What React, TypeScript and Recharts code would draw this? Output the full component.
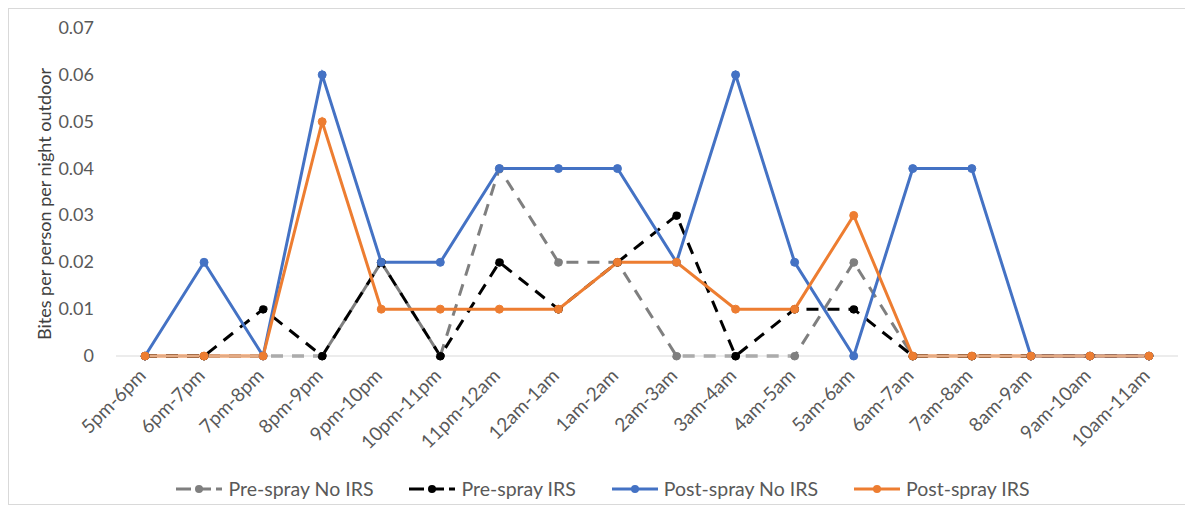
import { LineChart, Line, XAxis, YAxis, Legend } from 'recharts';

const hours = ['5pm-6pm', '6pm-7pm', '7pm-8pm', '8pm-9pm', '9pm-10pm', '10pm-11pm', '11pm-12am', '12am-1am', '1am-2am', '2am-3am', '3am-4am', '4am-5am', '5am-6am', '6am-7am', '7am-8am', '8am-9am', '9am-10am', '10am-11am'];
const preNoIrs = [0, 0, 0, 0, 0.02, 0, 0.04, 0.02, 0.02, 0, 0, 0, 0.02, 0, 0, 0, 0, 0];
const preIrs = [0, 0, 0.01, 0, 0.02, 0, 0.02, 0.01, 0.02, 0.03, 0, 0.01, 0.01, 0, 0, 0, 0, 0];
const postNoIrs = [0, 0.02, 0, 0.06, 0.02, 0.02, 0.04, 0.04, 0.04, 0.02, 0.06, 0.02, 0, 0.04, 0.04, 0, 0, 0];
const postIrs = [0, 0, 0, 0.05, 0.01, 0.01, 0.01, 0.01, 0.02, 0.02, 0.01, 0.01, 0.03, 0, 0, 0, 0, 0];
const yTicks = [0, 0.01, 0.02, 0.03, 0.04, 0.05, 0.06, 0.07];

const series = [
  { key: 'pre', name: 'Pre-spray No IRS', color: '#7f7f7f', dash: '12 9' },
  { key: 'preIrs', name: 'Pre-spray IRS', color: '#000000', dash: '12 9' },
  { key: 'post', name: 'Post-spray No IRS', color: '#4472c4', dash: undefined },
  { key: 'postIrs', name: 'Post-spray IRS', color: '#ed7d31', dash: undefined },
];

const data = hours.map((h, i) => ({
  hour: h,
  pre: preNoIrs[i],
  preIrs: preIrs[i],
  post: postNoIrs[i],
  postIrs: postIrs[i],
}));

const FONT = 'Lato, "Open Sans", sans-serif';

// drawn by hand so the font size sticks
const XTick = ({ x, y, payload }: any) => (
  <g transform={`translate(${x + 2},${y + 13})`}>
    <text transform="rotate(-45)" textAnchor="end" fill="#595959" fontSize={19} fontFamily={FONT}>
      {payload.value}
    </text>
  </g>
);

const YTick = ({ x, y, payload }: any) => (
  <text x={x - 14} y={y + 6} textAnchor="end" fill="#595959" fontSize={18} fontFamily={FONT}>
    {payload.value}
  </text>
);

const LegendBox = () => (
  <div style={{ display: 'flex', justifyContent: 'center', gap: 35, fontFamily: FONT, fontSize: 19.5, color: '#595959', paddingLeft: 18, lineHeight: '22px' }}>
    {series.map((s) => (
      <div key={s.key} style={{ display: 'flex', alignItems: 'center' }}>
        <svg width={48} height={14} style={{ marginRight: 5 }}>
          <line x1={1} y1={7} x2={47} y2={7} stroke={s.color} strokeWidth={3} strokeDasharray={s.dash ? '15 5' : undefined} />
          <circle cx={24} cy={7} r={4} fill={s.color} />
        </svg>
        <span>{s.name}</span>
      </div>
    ))}
  </div>
);

const App = () => (
  <div style={{ width: 1176, height: 495, border: '1px solid #d9d9d9', background: '#fff' }}>
    <LineChart width={1176} height={495} data={data} margin={{ top: 19, right: 7, left: 0, bottom: 4 }}>
      <XAxis
        dataKey="hour"
        interval={0}
        height={122}
        padding={{ left: 29, right: 29 }}
        tickLine={false}
        axisLine={{ stroke: '#d9d9d9' }}
        tick={<XTick />}
      />
      <YAxis
        domain={[0, 0.07]}
        ticks={yTicks}
        width={107}
        axisLine={false}
        tickLine={false}
        tick={<YTick />}
        label={{ value: 'Bites per person per night outdoor', angle: -90, position: 'insideLeft', dx: 31, dy: 12, style: { textAnchor: 'middle', fill: '#404040', fontSize: 18, fontFamily: FONT } }}
      />
      <Legend verticalAlign="bottom" content={LegendBox} />
      {series.map((s) => (
        <Line
          key={s.key}
          type="linear"
          dataKey={s.key}
          name={s.name}
          stroke={s.color}
          strokeWidth={3}
          strokeDasharray={s.dash}
          dot={{ r: 4, fill: s.color, stroke: s.color, strokeWidth: 1 }}
          activeDot={false}
          isAnimationActive={false}
        />
      ))}
    </LineChart>
  </div>
);

export default App;
